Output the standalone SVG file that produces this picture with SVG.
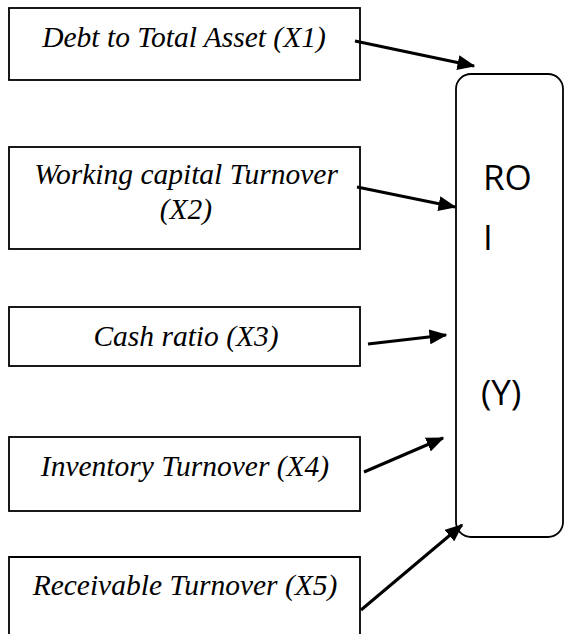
<svg xmlns="http://www.w3.org/2000/svg" width="565" height="634" viewBox="0 0 565 634">
<style>
.box{fill:#fff;stroke:#000;stroke-width:1.8}
.lbl{font-family:"Liberation Serif",serif;font-style:italic;font-size:29.5px;fill:#000;text-anchor:middle}
.roi{font-family:"Open Sans",sans-serif;font-size:35px;fill:#000}
.arr{stroke:#000;stroke-width:3;fill:none;marker-end:url(#ah)}
</style>
<defs>
<marker id="ah" markerWidth="6" markerHeight="5" refX="5.5" refY="2.5" orient="auto" markerUnits="strokeWidth">
<path d="M0,0 L6,2.5 L0,5 Z" fill="#000"/>
</marker>
</defs>
<rect width="565" height="634" fill="#fff"/>
<g id="x1">
<rect class="box" x="9" y="8" width="351" height="72"/>
<text class="lbl" x="184" y="47">Debt to Total Asset (X1)</text>
</g>
<g id="x2">
<rect class="box" x="9" y="147" width="351" height="102"/>
<text class="lbl" x="186" y="184">Working capital Turnover</text>
<text class="lbl" x="186" y="219">(X2)</text>
</g>
<g id="x3">
<rect class="box" x="9" y="307" width="351" height="59"/>
<text class="lbl" x="186" y="346">Cash ratio (X3)</text>
</g>
<g id="x4">
<rect class="box" x="9" y="437" width="351" height="74"/>
<text class="lbl" x="185" y="476">Inventory Turnover (X4)</text>
</g>
<g id="x5">
<path class="box" d="M9,640 L9,557 L360,557 L360,640"/>
<text class="lbl" x="185" y="595">Receivable Turnover (X5)</text>
</g>
<g id="roi">
<rect class="box" x="456" y="74" width="107" height="463" rx="15" ry="15"/>
<text class="roi" x="483" y="190">RO</text>
<text class="roi" x="483" y="250">I</text>
<text class="roi" x="481" y="405">(Y)</text>
</g>
<g id="connectors">
<line class="arr" x1="355" y1="41" x2="474" y2="66"/>
<line class="arr" x1="357" y1="187" x2="455" y2="207"/>
<line class="arr" x1="368" y1="344" x2="446" y2="335"/>
<line class="arr" x1="364" y1="472" x2="443" y2="438"/>
<line class="arr" x1="361" y1="610" x2="462" y2="525"/>
</g>
</svg>
